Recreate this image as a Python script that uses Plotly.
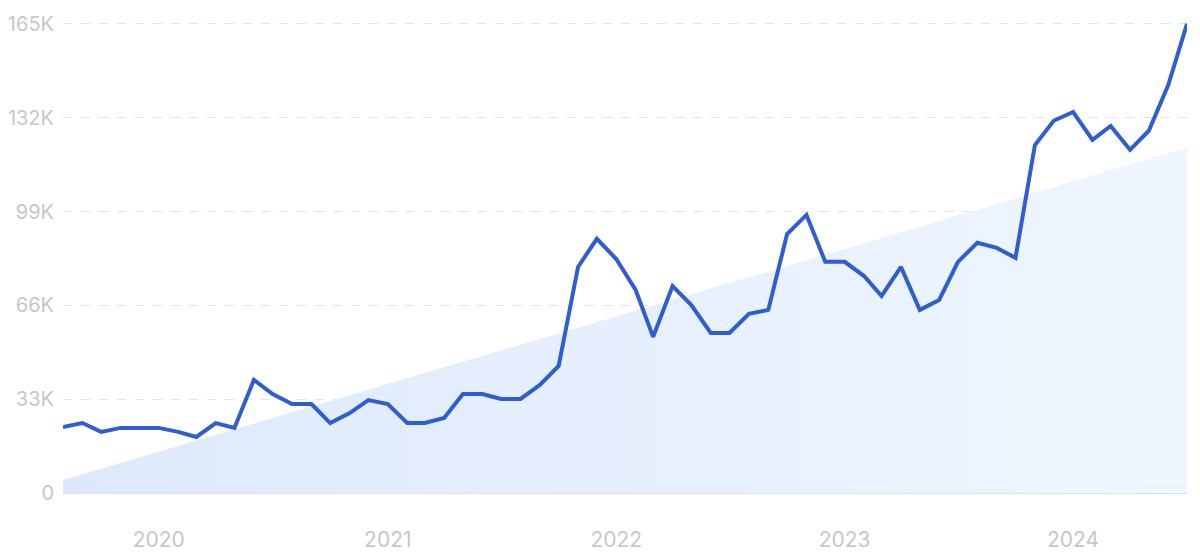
import pandas as pd
import plotly.graph_objects as go

months = pd.date_range("2019-08-01", "2024-07-01", freq="MS")

searches = [23.2, 24.6, 21.5, 22.9, 22.9, 22.9, 21.5, 19.7, 24.6, 22.9,
            39.8, 34.8, 31.3, 31.3, 24.6, 28.1, 32.7, 31.3, 24.6, 24.6,
            26.4, 34.8, 34.8, 33.1, 33.1, 38.0, 44.7, 79.5, 89.4, 82.3,
            71.4, 54.9, 72.8, 66.1, 56.3, 56.3, 63.0, 64.4, 91.1, 97.8,
            81.3, 81.3, 76.3, 69.3, 79.5, 64.4, 67.9, 81.3, 88.0, 86.2,
            82.7, 122.4, 130.9, 134.0, 124.2, 129.1, 120.7, 127.4, 143.5, 165.0]
searches = [v * 1000 for v in searches]

trend_dates = [months[0], months[-1]]
trend_values = [4600, 121400]

y_ticks = [0, 33000, 66000, 99000, 132000, 165000]
y_labels = ["0", "33K", "66K", "99K", "132K", "165K"]
x_ticks = ["2020-01-01", "2021-01-01", "2022-01-01", "2023-01-01", "2024-01-01"]
x_labels = ["2020", "2021", "2022", "2023", "2024"]

fig = go.Figure()

fig.add_trace(go.Scatter(
    x=trend_dates, y=trend_values,
    mode="lines", line=dict(width=0),
    fill="tozeroy",
    fillgradient=dict(type="horizontal",
                      colorscale=[[0, "rgb(221,233,251)"], [1, "rgb(239,246,255)"]]),
    hoverinfo="skip", showlegend=False))

fig.add_trace(go.Scatter(
    x=months, y=searches,
    mode="lines", line=dict(color="#2f5ed2", width=4),
    cliponaxis=False, showlegend=False))

# page body has an 8px margin, so margins are shifted to compensate
fig.update_layout(
    width=1200, height=556,
    margin=dict(l=55, r=21, t=13, b=71, autoexpand=False),
    plot_bgcolor="white", paper_bgcolor="white",
    font=dict(family="Inter", size=21, color="#c6c7cc"),
    xaxis=dict(range=[months[0], months[-1]], tickvals=x_ticks, ticktext=x_labels,
               showgrid=False, zeroline=False, showline=False, ticks="",
               ticklabelstandoff=32, automargin=False),
    yaxis=dict(range=[0, 166000], tickvals=y_ticks, ticktext=y_labels,
               tickfont=dict(size=20),
               showgrid=True, gridcolor="#dfe5f0", griddash="dash", gridwidth=1,
               zeroline=True, zerolinecolor="#d3e1f5", zerolinewidth=1.5,
               showline=False, ticks="", ticklabelstandoff=8, automargin=False))

fig.write_html("out.html")
